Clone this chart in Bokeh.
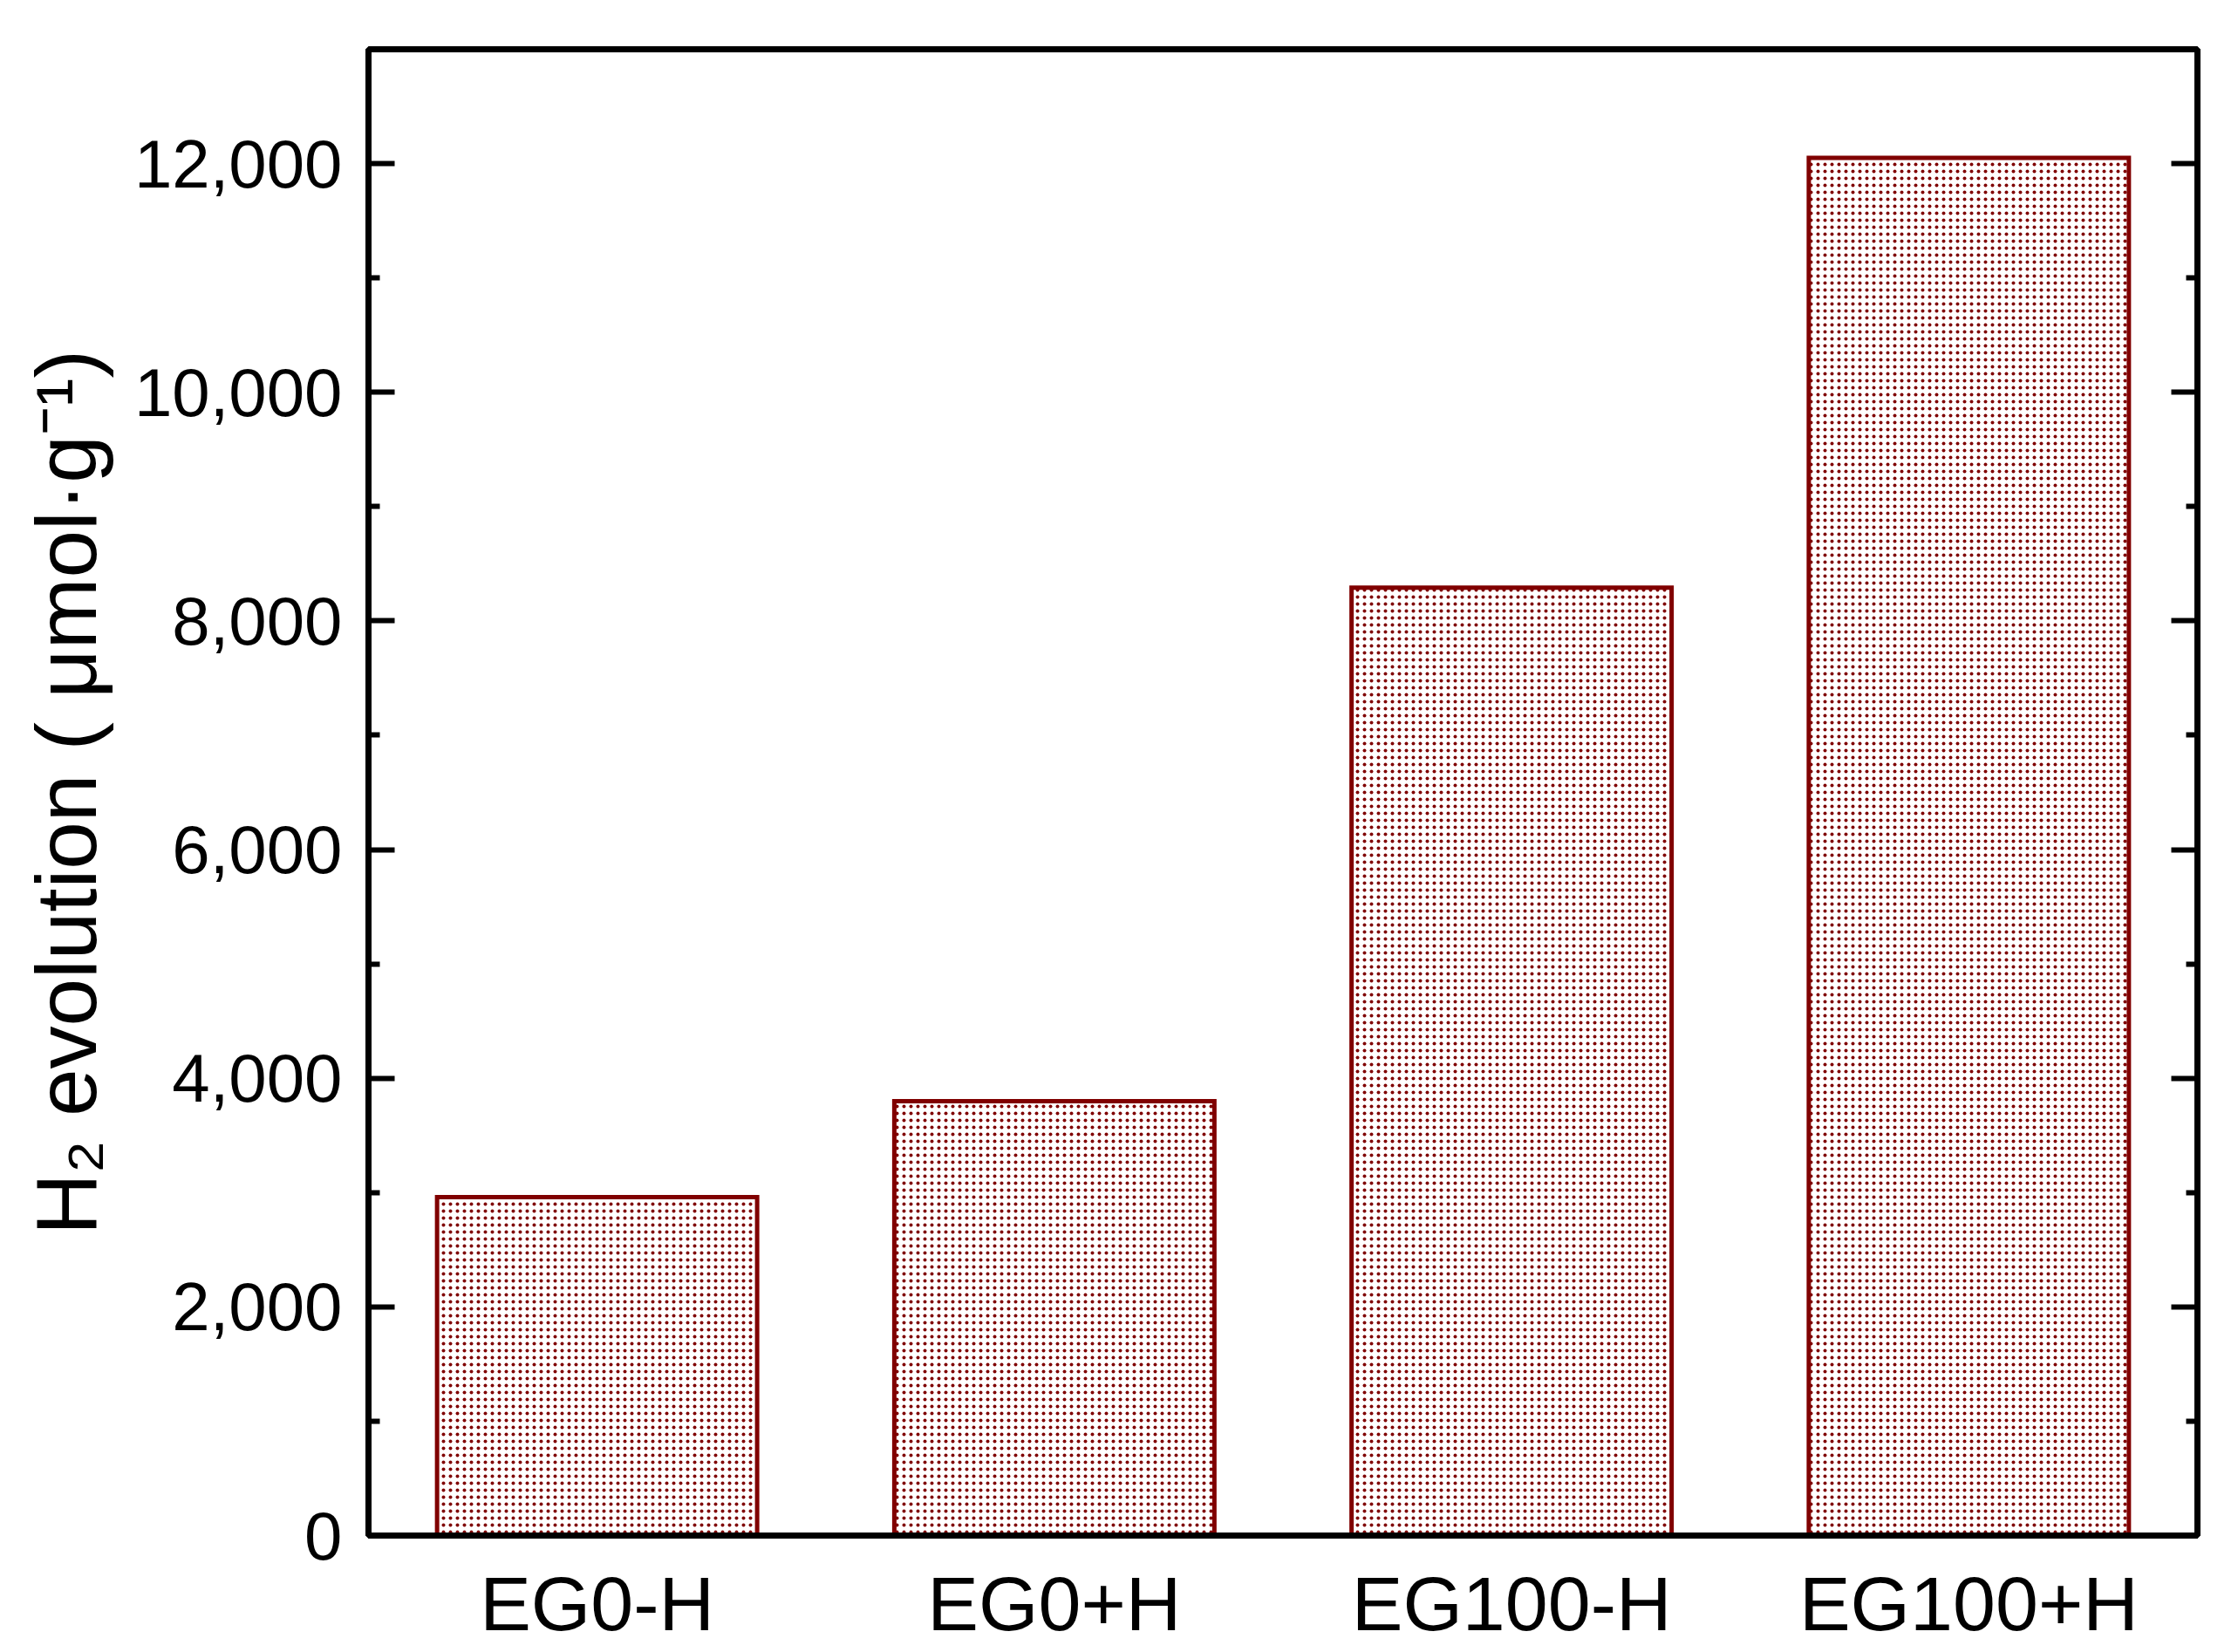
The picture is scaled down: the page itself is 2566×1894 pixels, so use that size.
from bokeh.plotting import figure
from bokeh.models import FactorRange, Range1d, LinearAxis, NumeralTickFormatter, FixedTicker, ColumnDataSource
from bokeh.embed import file_html
from bokeh.resources import INLINE

categories = ["EG0-H", "EG0+H", "EG100-H", "EG100+H"]
h2_evolution = [2960, 3800, 8290, 12050]
y_ticks = [0, 2000, 4000, 6000, 8000, 10000, 12000]
y_minor_ticks = [1000, 3000, 5000, 7000, 9000, 11000]
y_label = "H\u2082 evolution ( \u03bcmol\u00b7g\u207b\u00b9)"

FONT = "Liberation Sans"
DARK_RED = "#800000"

source = ColumnDataSource(data=dict(cat=categories, val=h2_evolution))

p = figure(
    x_range=FactorRange(factors=categories, range_padding=0),
    y_range=Range1d(0, 13000),
    frame_width=2097, frame_height=1704,
    min_border_left=422, min_border_top=56, min_border_right=39, min_border_bottom=120,
    output_backend="svg", toolbar_location=None,
    background_fill_color="white", border_fill_color="white",
)

p.vbar(x="cat", top="val", width=0.7, bottom=0, source=source,
       fill_color="white", line_color=DARK_RED, line_width=5,
       hatch_pattern="dot", hatch_color=DARK_RED, hatch_scale=8, hatch_weight=3,
       line_join="miter")

p.xgrid.visible = False
p.ygrid.visible = False
p.outline_line_color = "black"
p.outline_line_width = 7
p.outline_line_alpha = 1.0

# left axis
ya = p.yaxis[0]
ya.ticker = FixedTicker(ticks=y_ticks, minor_ticks=y_minor_ticks)
ya.formatter = NumeralTickFormatter(format="0,0")
ya.axis_line_width = 7
ya.axis_line_color = "black"
ya.major_tick_in = 30
ya.major_tick_out = 0
ya.minor_tick_in = 13
ya.minor_tick_out = 0
ya.major_tick_line_width = 6
ya.minor_tick_line_width = 6
ya.major_label_text_font = FONT
ya.major_label_text_font_size = "78px"
ya.major_label_text_color = "black"
ya.major_label_standoff = 30
ya.axis_label = y_label
ya.axis_label_text_font = FONT
ya.axis_label_text_font_size = "98px"
ya.axis_label_text_font_style = "normal"
ya.axis_label_text_color = "black"
ya.axis_label_standoff = 20

# right axis (ticks only)
ra = LinearAxis(ticker=FixedTicker(ticks=y_ticks, minor_ticks=y_minor_ticks))
ra.axis_line_width = 7
ra.major_tick_in = 30
ra.major_tick_out = 0
ra.minor_tick_in = 13
ra.minor_tick_out = 0
ra.major_tick_line_width = 6
ra.minor_tick_line_width = 6
ra.major_label_text_font_size = "0px"
ra.major_label_text_color = None
ra.major_label_standoff = 0
p.add_layout(ra, "right")

# bottom axis
xa = p.xaxis[0]
xa.axis_line_width = 7
xa.major_tick_line_color = None
xa.minor_tick_line_color = None
xa.major_label_text_font = FONT
xa.major_label_text_font_size = "88px"
xa.major_label_text_color = "black"
xa.major_label_standoff = 22
xa.group_text_font_size = "0px"

open("out.html", "w").write(file_html(p, INLINE))
